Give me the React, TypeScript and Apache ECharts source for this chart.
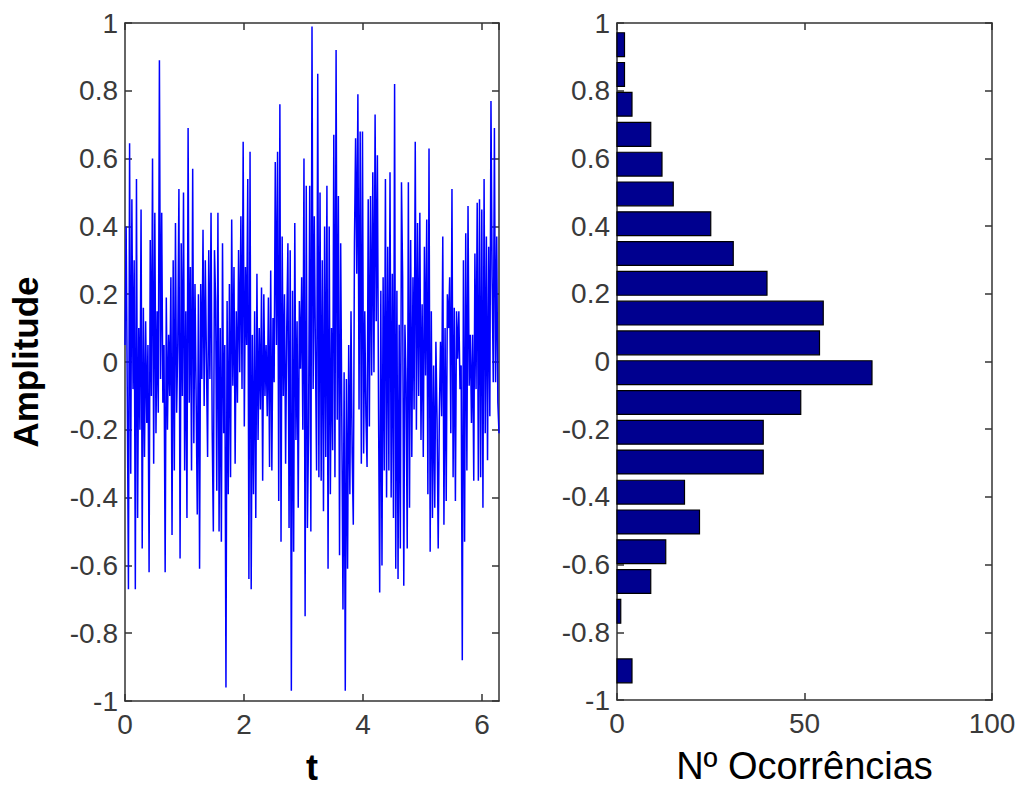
import React, { useEffect, useRef } from "react";
import * as echarts from "echarts";

// Signal samples (left to right), t from 0 to 2π
const signalA = [0.05, 0.40, -0.10, -0.67, 0.645, -0.33, 0.48, -0.08, 0.30, -0.67, 0.54, -0.46, 0.10, -0.20, 0.45, -0.55, 0.16, -0.28, 0.12, -0.18, 0.05, -0.62, 0.36, -0.10, 0.60, -0.30, 0.44, -0.21, 0.15, -0.15, 0.89, -0.05, 0.44, -0.12, 0.05, -0.62, 0.19, -0.20, 0.08, -0.10, 0.25, -0.51, 0.30, -0.32, 0.41, -0.15, 0.05, 0.51, -0.58, 0.35, -0.10, 0.50, -0.32, 0.15, -0.46, 0.69, -0.12, 0.28, -0.32, 0.57, -0.24, 0.23, -0.10, -0.45, 0.20, -0.61, 0.23, -0.05, 0.39, -0.13, 0.30, 0.00, -0.28, 0.33, -0.05, 0.44, -0.20, -0.50];
const signalB = [0.33, 0.18, -0.38, 0.44, -0.50, 0.10, -0.53, 0.35, -0.21, 0.05, -0.96, 0.18, -0.39, 0.23, -0.34, 0.42, -0.07, 0.28, -0.30, 0.15, -0.12, 0.33, -0.03, 0.43, -0.08, 0.65, -0.19, 0.28, 0.05, 0.54, -0.64, 0.62, -0.67, 0.08, -0.39, 0.15, -0.46, 0.26, -0.23, 0.10, -0.14, 0.22, -0.35, 0.20, -0.10, 0.05, -0.16, 0.19, -0.31, 0.27, -0.32, 0.13, -0.06, 0.59, 0.05, 0.62, -0.41, 0.76, -0.53, 0.37, -0.10, 0.20, -0.30, 0.10, 0.35, -0.49, 0.33, -0.97, 0.21, -0.56, 0.41, -0.23, 0.12, -0.43, 0.18, -0.02, 0.25, -0.20, 0.60, -0.75, 0.52, -0.49];
const signalC = [-0.21, 0.52, -0.50, 0.99, -0.08, 0.43, 0.02, -0.32, 0.85, -0.34, 0.50, -0.35, 0.30, -0.44, 0.40, -0.28, 0.52, -0.61, 0.40, -0.39, 0.10, -0.26, 0.67, -0.34, 0.92, -0.17, 0.49, -0.57, 0.35, -0.18, -0.73, -0.03, -0.97, -0.05, -0.61, 0.05, -0.39, 0.15, -0.27, -0.48, 0.35, 0.66, 0.26, 0.79, -0.14, 0.68, -0.30, 0.68, -0.27, 0.15, -0.16, -0.31, 0.48, -0.19, 0.49, -0.04, 0.56, -0.03, 0.73, 0.12, 0.61, -0.14, -0.68, 0.21, -0.60, 0.25, -0.32, 0.54, -0.40, 0.34, -0.32, 0.56, -0.40, 0.26, -0.46, 0.82, -0.61, 0.21, -0.64, 0.11, -0.55, 0.53];
const signalD = [0.25, -0.66, 0.11, -0.06, -0.55, 0.53, -0.43, 0.36, -0.28, 0.25, -0.14, 0.65, -0.20, 0.41, -0.10, 0.44, -0.23, 0.17, -0.28, 0.34, -0.04, 0.42, -0.39, 0.63, -0.56, 0.15, -0.46, -0.01, -0.43, 0.06, -0.17, -0.55, -0.16, 0.06, -0.16, 0.37, -0.48, 0.10, -0.41, 0.20, 0.10, 0.25, -0.21, 0.51, -0.34, 0.16, -0.41, 0.15, 0.01, 0.15, -0.08, -0.01, -0.88, 0.30, -0.53, 0.38, -0.32, 0.46, -0.07, 0.08, -0.18, 0.08, -0.35, 0.32, -0.08, 0.47, -0.35, 0.48, -0.34, 0.45, -0.43, 0.54, -0.21, 0.37, -0.29, 0.34, -0.16, 0.77, 0.25, -0.06, 0.69, -0.06, 0.37, -0.12, -0.21];

// Histogram: bin centres (amplitude) and occurrence counts, bottom to top
const binCenters = [-0.914, -0.826, -0.738, -0.650, -0.562, -0.474, -0.386, -0.297, -0.209, -0.121, -0.033, 0.055, 0.143, 0.231, 0.319, 0.407, 0.495, 0.583, 0.671, 0.760, 0.848, 0.936];
const binCounts = [4, 0, 1, 9, 13, 22, 18, 39, 39, 49, 68, 54, 55, 40, 31, 25, 15, 12, 9, 4, 2, 2];
const binWidth = 0.0881;

const TWO_PI = 2 * Math.PI;
const xTicksLeft = { min: 0, max: TWO_PI, interval: 2 };
const xTicksRight = { min: 0, max: 100, interval: 50 };
const yTicks = { min: -1, max: 1, interval: 0.2 };

const TICK_FONT = "'Liberation Sans', Arial, sans-serif";
const LABEL_FONT = "'Liberation Sans', Arial, sans-serif";
const AXIS_COLOR = "#333333";

export default function App() {
  const ref = useRef<HTMLDivElement | null>(null);

  useEffect(() => {
    if (!ref.current) return;
    const chart = echarts.init(ref.current, undefined, { renderer: "svg" });

    const signal = [...signalA, ...signalB, ...signalC, ...signalD];
    const n = signal.length;
    const lineData = signal.map((v, i) => [(i * TWO_PI) / (n - 1), v]);
    const histData = binCenters.map((c, i) => [c, binCounts[i]]);

    const lineStyle = { color: AXIS_COLOR, width: 1.5 };
    const tickLabel = {
      color: "#3a3a3a",
      fontFamily: TICK_FONT,
      fontSize: 28,
    };

    const mkX = (grid: number, t: any, pos: "bottom" | "top", extra: any = {}) => ({
      gridIndex: grid,
      type: "value",
      min: t.min,
      max: t.max,
      interval: t.interval,
      position: pos,
      axisLine: { show: true, onZero: false, lineStyle },
      axisTick: { show: true, inside: true, length: 7, lineStyle },
      axisLabel:
        pos === "bottom"
          ? {
              ...tickLabel,
              margin: 9,
              showMaxLabel: t.max === 100,
              formatter: (v: number) => (Math.abs(v - Math.round(v)) < 1e-9 ? String(Math.round(v)) : ""),
            }
          : { show: false },
      splitLine: { show: false },
      ...extra,
    });

    const mkY = (grid: number, pos: "left" | "right", extra: any = {}) => ({
      gridIndex: grid,
      type: "value",
      min: yTicks.min,
      max: yTicks.max,
      interval: yTicks.interval,
      position: pos,
      axisLine: { show: true, onZero: false, lineStyle },
      axisTick: { show: true, inside: true, length: 7, lineStyle },
      axisLabel: pos === "left" ? { ...tickLabel, margin: 7 } : { show: false },
      splitLine: { show: false },
      ...extra,
    });

    const option: any = {
      animation: false,
      backgroundColor: "#ffffff",
      grid: [
        { left: 125, top: 23, width: 374, height: 684 },
        { left: 617, top: 23, width: 375, height: 684 },
      ],
      xAxis: [
        mkX(0, xTicksLeft, "bottom", {
          name: "t",
          nameLocation: "middle",
          nameGap: 48,
          nameTextStyle: { fontFamily: LABEL_FONT, fontSize: 36, fontWeight: "bold", color: "#000" },
        }),
        mkX(0, xTicksLeft, "top"),
        mkX(1, xTicksRight, "bottom", {
          name: "Nº Ocorrências",
          nameLocation: "middle",
          nameGap: 47,
          nameTextStyle: { fontFamily: LABEL_FONT, fontSize: 38, color: "#000" },
        }),
        mkX(1, xTicksRight, "top"),
      ],
      yAxis: [
        mkY(0, "left", {
          name: "Amplitude",
          nameLocation: "middle",
          nameRotate: 90,
          nameGap: 82,
          nameTextStyle: { fontFamily: LABEL_FONT, fontSize: 35, fontWeight: "bold", color: "#000" },
        }),
        mkY(0, "right"),
        mkY(1, "left"),
        mkY(1, "right"),
      ],
      series: [
        {
          type: "line",
          xAxisIndex: 0,
          yAxisIndex: 0,
          data: lineData,
          symbol: "none",
          showSymbol: false,
          lineStyle: { color: "#0000ff", width: 1.5 },
          clip: true,
        },
        {
          type: "custom",
          xAxisIndex: 2,
          yAxisIndex: 2,
          data: histData,
          encode: { x: 1, y: 0 },
          renderItem: (params: any, api: any) => {
            const c = api.value(0);
            const count = api.value(1);
            if (!count) return null;
            const h = binWidth * 0.8;
            const p0 = api.coord([0, c + h / 2]);
            const p1 = api.coord([count, c - h / 2]);
            return {
              type: "rect",
              shape: { x: p0[0], y: p0[1], width: p1[0] - p0[0], height: p1[1] - p0[1] },
              style: { fill: "#00008f", stroke: "#000000", lineWidth: 1.2 },
            };
          },
        },
      ],
    };

    chart.setOption(option);
    return () => chart.dispose();
  }, []);

  return (
    <div
      ref={ref}
      style={{ position: "fixed", left: 0, top: 0, width: 1023, height: 790, background: "#fff" }}
    />
  );
}
